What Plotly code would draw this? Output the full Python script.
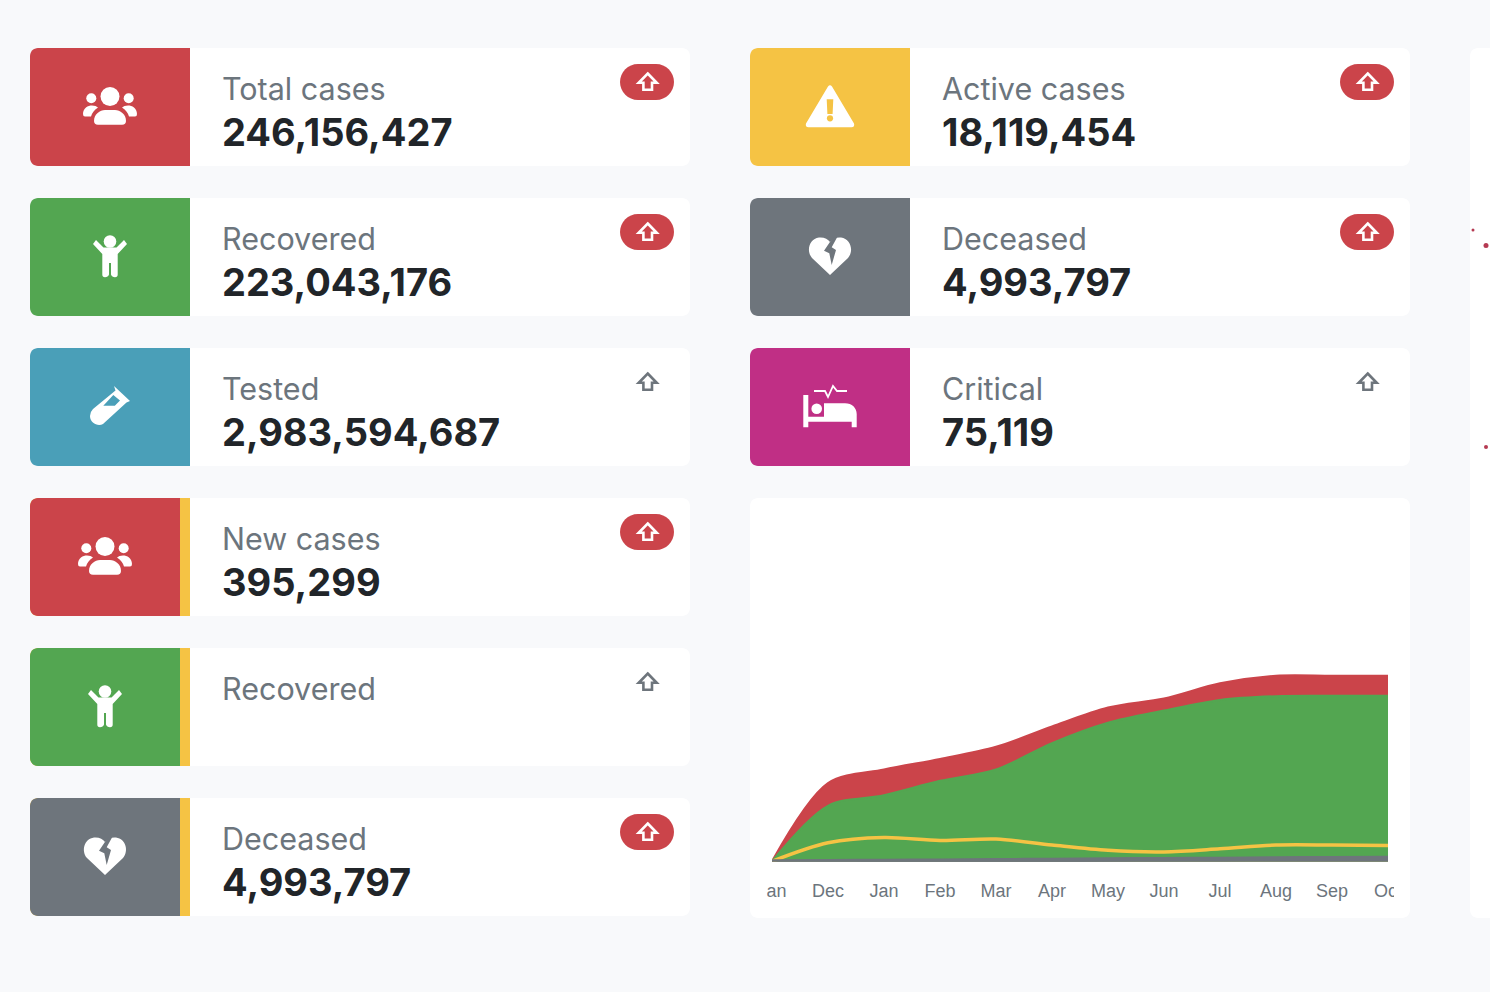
import plotly.graph_objects as go

# chart data, millions of people per month
months = ["Jan", "Dec", "Jan", "Feb", "Mar", "Apr", "May", "Jun", "Jul", "Aug", "Sep", "Oct"]
month_pos = [0, 1, 2, 3, 4, 5, 6, 7, 8, 9, 10, 11]
total_series = [0.5, 104, 122, 136, 152, 179, 204, 216, 236, 246, 246, 246]
recovered_series = [0.5, 74, 88, 107, 122, 157, 184, 200, 214, 219, 219.5, 219.5]
active_series = [0.5, 25, 32, 28, 30, 22, 15, 13, 17, 22, 22, 21.5]
deceased_series = [0.3, 0.6, 1.0, 1.4, 1.8, 2.4, 2.9, 3.3, 3.7, 4.2, 4.6, 5.0]

# card contents
left_labels = ["Total cases", "Recovered", "Tested", "New cases", "Recovered", "Deceased"]
left_values = ["246,156,427", "223,043,176", "2,983,594,687", "395,299", "", "4,993,797"]
left_icons = ["people", "child", "flask", "people", "child", "heart"]
left_pills = [True, True, False, True, False, True]
right_labels = ["Active cases", "Deceased", "Critical"]
right_values = ["18,119,454", "4,993,797", "75,119"]
right_icons = ["warning", "heart", "bed"]
right_pills = [True, True, False]

RED = "#cb444a"
GREEN = "#53a651"
BLUE = "#4a9fb8"
YELLOW = "#f5c344"
GRAY = "#6e757c"
MAGENTA = "#c02f85"
BG = "#f8f9fb"
W, H = 1490, 992

left_colors = {"people": RED, "child": GREEN, "flask": BLUE, "heart": GRAY}
right_colors = {"warning": YELLOW, "heart": GRAY, "bed": MAGENTA}

shapes = []
notes = []


def rounded(x0, y0, x1, y1, r_left=8, r_right=8):
    kl = r_left * 0.45
    kr = r_right * 0.45
    return (
        f"M{x0 + r_left},{y0} L{x1 - r_right},{y0} C{x1 - kr},{y0} {x1},{y0 + kr} {x1},{y0 + r_right} "
        f"L{x1},{y1 - r_right} C{x1},{y1 - kr} {x1 - kr},{y1} {x1 - r_right},{y1} L{x0 + r_left},{y1} "
        f"C{x0 + kl},{y1} {x0},{y1 - kl} {x0},{y1 - r_left} L{x0},{y0 + r_left} C{x0},{y0 + kl} {x0 + kl},{y0} {x0 + r_left},{y0} Z"
    )


def add_path(path, fill="white", line=None, width=0, layer="below"):
    shapes.append(dict(
        type="path", path=path, xref="x", yref="y", layer=layer, fillcolor=fill,
        line=dict(color=line or "rgba(0,0,0,0)", width=width),
    ))


def circle(cx, cy, r, fill="white"):
    shapes.append(dict(
        type="circle", xref="x", yref="y", layer="below", fillcolor=fill,
        x0=cx - r, x1=cx + r, y0=cy - r, y1=cy + r, line=dict(width=0),
    ))


# shift a path given around (0,0): every pair "a,b" moves by cx,cy
def moved(cx, cy, text):
    out = []
    for tok in text.split():
        cmd = ""
        if tok[0].isalpha():
            cmd, tok = tok[0], tok[1:]
        if not tok:
            out.append(cmd)
            continue
        a, b = tok.split(",")
        out.append(f"{cmd}{float(a) + cx:.2f},{float(b) + cy:.2f}")
    return " ".join(out)


def draw_icon(kind, cx, cy, bg):
    if kind == "people":
        circle(cx, cy - 9.5, 9.5)
        circle(cx - 18.7, cy - 7.7, 5)
        circle(cx + 18.7, cy - 7.7, 5)
        add_path(moved(cx, cy, "M-16,15 C-16,8 -10,4 -5,4 L5,4 C10,4 16,8 16,15 Q16,18.7 12,18.7 L-12,18.7 Q-16,18.7 -16,15 Z"))
        add_path(moved(cx, cy, "M-27,8 C-27,2 -22,-0.5 -18,-0.5 Q-14,-0.5 -12,1.5 C-16,4 -18,7 -19,10.5 L-25,10.5 Q-27,10.5 -27,8 Z"))
        add_path(moved(cx, cy, "M27,8 C27,2 22,-0.5 18,-0.5 Q14,-0.5 12,1.5 C16,4 18,7 19,10.5 L25,10.5 Q27,10.5 27,8 Z"))
    elif kind == "child":
        circle(cx, cy - 14.5, 6.3)
        add_path(moved(cx, cy, "M-14,-16 L-6.5,-8.5 L6.5,-8.5 L14,-16 L17,-12 L7.7,-2 L7.7,18.5 Q7.7,21.3 5,21.3 Q2,21.3 1,18.5 L1,7 L-1,7 L-1,18.5 Q-2,21.3 -5,21.3 Q-7.7,21.3 -7.7,18.5 L-7.7,-2 L-17,-12 Z"))
    elif kind == "flask":
        add_path(moved(cx, cy, "M4,-20 L20,-5 L16.5,-3.5 L-7,18 C-12,21 -20,17 -20,10 Q-20,6 -17,3 L5.5,-15.5 Z "
                               "M-6.7,-0.3 L3.3,-11 L10,-5.5 L4.8,-0.3 Z"))
    elif kind == "warning":
        add_path(moved(cx, cy, "M-2,-19.5 Q0,-22 2,-19.5 L24,17.5 Q25,21 21.5,21.3 L-21.5,21.3 Q-25,21 -24,17.5 Z "
                               "M-3.3,-6.7 L3.3,-6.7 L2.6,8 L-2.6,8 Z"))
        circle(cx, cy + 12.3, 3.1, bg)
    elif kind == "heart":
        add_path(moved(cx, cy, "M0,19 L-18,2 C-24,-5 -21,-17 -11,-18.5 C-6,-19 -2,-17 0,-14 C2,-17 6,-19 11,-18.5 C21,-17 24,-5 18,2 Z"))
        add_path(moved(cx, cy, "M3.3,-19 L-6,-5.3 L-0.7,-2.7 L1.7,9 L6,-6 L1.7,-8.7 L7.3,-19 Z"), fill=bg)
    elif kind == "bed":
        add_path(moved(cx, cy, "M-26.7,-11 L-21.7,-11 L-21.7,10.7 L-6,10.7 L-6,-2.7 L15,-2.7 C22,-2.7 26.7,2 26.7,8 "
                               "L26.7,21.3 L21.7,21.3 L21.7,15.7 L-21.7,15.7 L-21.7,21.3 L-26.7,21.3 Z"))
        circle(cx - 13.3, cy + 2.7, 5.3)
        add_path(moved(cx, cy, "M-16,-15 L-5,-15 L-2,-9 L3,-20 L7,-15 L17,-15"), fill="rgba(0,0,0,0)", line="white", width=1.8)


def draw_arrow(cx, cy, pill):
    if pill:
        add_path(rounded(cx - 27, cy - 18, cx + 27, cy + 18, 18, 18), fill=RED)
    add_path(moved(cx + 0.7, cy, "M0,-8.5 L9,0.8 L4.3,0.8 L4.3,7.7 L-4.3,7.7 L-4.3,0.8 L-9,0.8 Z"),
             fill="rgba(0,0,0,0)", line="white" if pill else GRAY, width=2.6)


def draw_card(x, y, color, label, value, icon, pill, strip=False):
    add_path(rounded(x, y, x + 660, y + 118), fill="white")
    if strip:
        add_path(rounded(x, y, x + 160, y + 118, 8, 0), fill=YELLOW)
        add_path(rounded(x, y, x + 150, y + 118, 8, 0), fill=color)
        draw_icon(icon, x + 75, y + 58, color)
    else:
        add_path(rounded(x, y, x + 160, y + 118, 8, 0), fill=color)
        draw_icon(icon, x + 80, y + 58, color)
    draw_arrow(x + 617, y + 34, pill)
    notes.append(dict(x=x + 190, y=y + 40, text=label, xref="x", yref="y", showarrow=False, xanchor="left",
                      yanchor="middle", font=dict(family="Inter", size=30.5, color="#6c757d")))
    if value:
        notes.append(dict(x=x + 190, y=y + 84, text=f"<b>{value}</b>", xref="x", yref="y", showarrow=False,
                          xanchor="left", yanchor="middle", font=dict(family="Inter", size=38, color="#212529")))


for i in range(6):
    draw_card(30, 48 + 150 * i, left_colors[left_icons[i]], left_labels[i], left_values[i],
              left_icons[i], left_pills[i], strip=i >= 3)
for i in range(3):
    draw_card(750, 48 + 150 * i, right_colors[right_icons[i]], right_labels[i], right_values[i],
              right_icons[i], right_pills[i])

# chart card, and the edge of the next column
add_path(rounded(750, 498, 1410, 918), fill="white")
add_path(rounded(1470, 48, 1520, 918), fill="white")
for cx, cy, r in [(1473, 230, 1.5), (1486, 245.5, 2.5), (1486, 447, 2)]:
    circle(cx, cy, r, "#b53a52")

# the chart's labels get cut off by its container
shapes.append(dict(type="rect", xref="x", yref="y", layer="above", x0=752, x1=766.5, y0=878, y1=906,
                   fillcolor="white", line=dict(width=0)))
shapes.append(dict(type="rect", xref="x", yref="y", layer="above", x0=1394, x1=1408, y0=878, y1=906,
                   fillcolor="white", line=dict(width=0)))

fig = go.Figure()
fig.add_trace(go.Scatter(x=month_pos, y=total_series, name="Total", mode="lines", fill="tozeroy", fillcolor=RED,
                         line=dict(color=RED, width=2, shape="spline", smoothing=0.9), xaxis="x2", yaxis="y2"))
fig.add_trace(go.Scatter(x=month_pos, y=recovered_series, name="Recovered", mode="lines", fill="tozeroy", fillcolor=GREEN,
                         line=dict(color=GREEN, width=2, shape="spline", smoothing=0.9), xaxis="x2", yaxis="y2"))
fig.add_trace(go.Scatter(x=month_pos, y=active_series, name="Active", mode="lines",
                         line=dict(color=YELLOW, width=3.5, shape="spline", smoothing=0.9), xaxis="x2", yaxis="y2"))
fig.add_trace(go.Scatter(x=month_pos, y=deceased_series, name="Deceased", mode="lines", fill="tozeroy", fillcolor=GRAY,
                         cliponaxis=False,
                         line=dict(color=GRAY, width=4.5, shape="spline", smoothing=0.9), xaxis="x2", yaxis="y2"))

fig.update_layout(
    width=W, height=H, margin=dict(l=0, r=0, t=0, b=0, autoexpand=False), showlegend=False,
    paper_bgcolor=BG, plot_bgcolor="rgba(0,0,0,0)",
    shapes=shapes, annotations=notes,
    # page axes in pixels for the cards
    xaxis=dict(range=[0, W], domain=[0, 1], visible=False, fixedrange=True, automargin=False),
    yaxis=dict(range=[H, 0], domain=[0, 1], visible=False, fixedrange=True, automargin=False),
    xaxis2=dict(range=[0, 11], domain=[772 / W, 1388 / W], anchor="y2", tickmode="array", tickvals=month_pos,
                ticktext=months, showgrid=False, zeroline=False, showline=False, ticks="outside", ticklen=13,
                tickcolor="rgba(0,0,0,0)", automargin=False,
                tickfont=dict(family="Liberation Sans", size=18, color="#6c757d")),
    yaxis2=dict(range=[0, 280], domain=[(H - 861.7) / H, (H - 650.1) / H], anchor="x2", visible=False, automargin=False),
)

fig.write_html("out.html", config=dict(displayModeBar=False),
               post_script="document.body.style.margin='0';document.body.style.overflow='hidden';")
